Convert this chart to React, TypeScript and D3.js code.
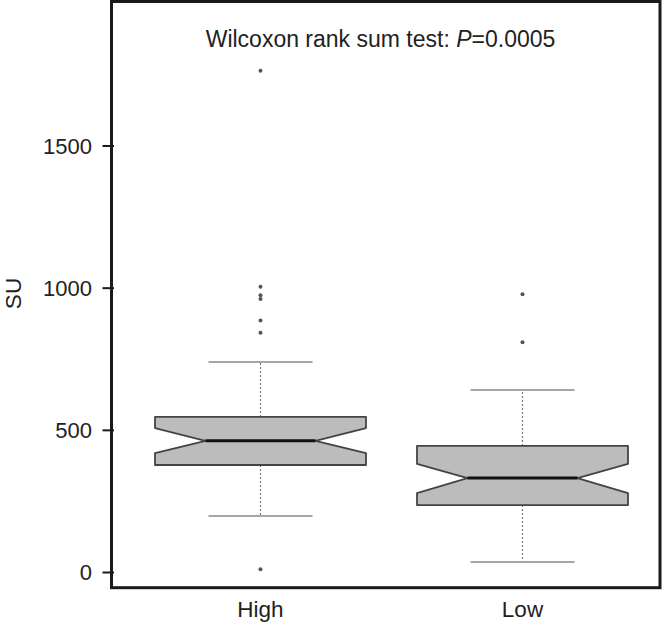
import React, { useRef, useEffect } from 'react';
import * as d3 from 'd3';

// groups and box statistics
const groups = ['High', 'Low'];
const lowerWhisker = [199, 37];
const q1 = [378, 237];
const notchLow = [420, 279];
const median = [463, 332];
const notchHigh = [508, 382];
const q3 = [547, 445];
const upperWhisker = [740, 642];
const outliersHigh = [1765, 1005, 975, 962, 886, 843, 11];
const outliersLow = [979, 810];
const yTicks = [0, 500, 1000, 1500];

const FONT = '"Liberation Sans", Arial, Helvetica, sans-serif';

const App = () => {
  const svgRef = useRef(null);

  useEffect(() => {
    if (!svgRef.current) return;
    const svg = d3.select(svgRef.current);
    svg.selectAll('*').remove();

    const width = 664;
    const height = 622;

    const xScale = d3.scalePoint().domain(groups).range([260.5, 522.5]);
    const yScale = d3.scaleLinear().domain([0, 1500]).range([572.5, 146]);

    const boxHalf = 105.5;
    const notchHalf = 55;
    const capHalf = 52;

    const outliers = [outliersHigh, outliersLow];

    groups.forEach((g, i) => {
      const cx = xScale(g);

      // dotted whiskers
      svg.append('line')
        .attr('x1', cx).attr('x2', cx)
        .attr('y1', yScale(q3[i])).attr('y2', yScale(upperWhisker[i]))
        .attr('stroke', '#777')
        .attr('stroke-width', 1.2)
        .attr('stroke-dasharray', '2,2');
      svg.append('line')
        .attr('x1', cx).attr('x2', cx)
        .attr('y1', yScale(q1[i])).attr('y2', yScale(lowerWhisker[i]))
        .attr('stroke', '#777')
        .attr('stroke-width', 1.2)
        .attr('stroke-dasharray', '2,2');

      // whisker caps
      [upperWhisker[i], lowerWhisker[i]].forEach(v => {
        svg.append('line')
          .attr('x1', cx - capHalf).attr('x2', cx + capHalf)
          .attr('y1', yScale(v)).attr('y2', yScale(v))
          .attr('stroke', '#888')
          .attr('stroke-width', 1.5);
      });

      // notched box
      const pts = [
        [cx - boxHalf, yScale(q1[i])],
        [cx - boxHalf, yScale(notchLow[i])],
        [cx - notchHalf, yScale(median[i])],
        [cx - boxHalf, yScale(notchHigh[i])],
        [cx - boxHalf, yScale(q3[i])],
        [cx + boxHalf, yScale(q3[i])],
        [cx + boxHalf, yScale(notchHigh[i])],
        [cx + notchHalf, yScale(median[i])],
        [cx + boxHalf, yScale(notchLow[i])],
        [cx + boxHalf, yScale(q1[i])],
      ];
      svg.append('path')
        .attr('d', d3.line()(pts as [number, number][]) + 'Z')
        .attr('fill', '#bcbcbc')
        .attr('stroke', '#444')
        .attr('stroke-width', 1.8)
        .attr('stroke-linejoin', 'round');

      // median
      svg.append('line')
        .attr('x1', cx - notchHalf).attr('x2', cx + notchHalf)
        .attr('y1', yScale(median[i])).attr('y2', yScale(median[i]))
        .attr('stroke', '#111')
        .attr('stroke-width', 3);

      // outliers
      svg.append('g')
        .selectAll('circle')
        .data(outliers[i])
        .enter()
        .append('circle')
        .attr('cx', cx)
        .attr('cy', d => yScale(d))
        .attr('r', 2)
        .attr('fill', '#555');
    });

    // frame
    svg.append('rect')
      .attr('x', 111.5).attr('y', 1.5)
      .attr('width', 660 - 111.5).attr('height', 587.7 - 1.5)
      .attr('fill', 'none')
      .attr('stroke', '#1a1a1a')
      .attr('stroke-width', 3);

    // y ticks
    const tickG = svg.append('g');
    yTicks.forEach(t => {
      tickG.append('line')
        .attr('x1', 102.5).attr('x2', 114)
        .attr('y1', yScale(t)).attr('y2', yScale(t))
        .attr('stroke', '#1a1a1a')
        .attr('stroke-width', 2);
      tickG.append('text')
        .attr('x', 92)
        .attr('y', yScale(t))
        .attr('dy', '0.36em')
        .attr('text-anchor', 'end')
        .attr('font-family', FONT)
        .attr('font-size', 22)
        .attr('fill', '#222')
        .text(t);
    });

    // x labels
    groups.forEach(g => {
      svg.append('text')
        .attr('x', xScale(g))
        .attr('y', 617)
        .attr('text-anchor', 'middle')
        .attr('font-family', FONT)
        .attr('font-size', 22.5)
        .attr('fill', '#222')
        .text(g);
    });

    // y label
    svg.append('text')
      .attr('transform', 'translate(20.5, 293.5) rotate(-90)')
      .attr('text-anchor', 'middle')
      .attr('font-family', FONT)
      .attr('font-size', 22.5)
      .attr('fill', '#222')
      .text('SU');

    // title
    const title = svg.append('text')
      .attr('x', 380.5)
      .attr('y', 46.5)
      .attr('text-anchor', 'middle')
      .attr('font-family', FONT)
      .attr('font-size', 23)
      .attr('fill', '#222');
    title.append('tspan').text('Wilcoxon rank sum test: ');
    title.append('tspan').attr('font-style', 'italic').text('P');
    title.append('tspan').text('=0.0005');

    svg.attr('width', width).attr('height', height);
  }, []);

  return (
    <svg
      ref={svgRef}
      width={664}
      height={622}
      style={{ position: 'absolute', left: 0, top: 0, background: '#fff' }}
    />
  );
};

export default App;
